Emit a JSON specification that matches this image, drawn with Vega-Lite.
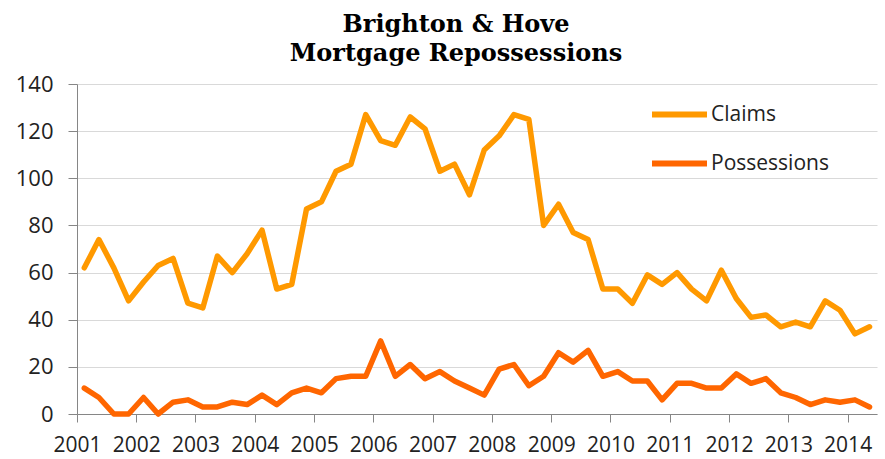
{
  "$schema": "https://vega.github.io/schema/vega-lite/v6.json",
  "width": 800,
  "height": 330,
  "autosize": {"type": "none"},
  "padding": {"left": 77, "top": 84, "right": 8, "bottom": 45},
  "background": "#ffffff",
  "title": {
    "text": ["Brighton & Hove", "Mortgage Repossessions"],
    "font": "DejaVu Serif",
    "fontWeight": "bold",
    "fontSize": 24,
    "lineHeight": 29,
    "color": "#000000",
    "anchor": "middle",
    "dx": -21,
    "offset": 7
  },
  "data": {
    "values": [
      {"date": "2001-02-15", "Claims": 62, "Possessions": 11},
      {"date": "2001-05-16", "Claims": 74, "Possessions": 7},
      {"date": "2001-08-16", "Claims": 62, "Possessions": 0},
      {"date": "2001-11-15", "Claims": 48, "Possessions": 0},
      {"date": "2002-02-15", "Claims": 56, "Possessions": 7},
      {"date": "2002-05-16", "Claims": 63, "Possessions": 0},
      {"date": "2002-08-16", "Claims": 66, "Possessions": 5},
      {"date": "2002-11-15", "Claims": 47, "Possessions": 6},
      {"date": "2003-02-15", "Claims": 45, "Possessions": 3},
      {"date": "2003-05-16", "Claims": 67, "Possessions": 3},
      {"date": "2003-08-16", "Claims": 60, "Possessions": 5},
      {"date": "2003-11-15", "Claims": 68, "Possessions": 4},
      {"date": "2004-02-15", "Claims": 78, "Possessions": 8},
      {"date": "2004-05-16", "Claims": 53, "Possessions": 4},
      {"date": "2004-08-16", "Claims": 55, "Possessions": 9},
      {"date": "2004-11-15", "Claims": 87, "Possessions": 11},
      {"date": "2005-02-15", "Claims": 90, "Possessions": 9},
      {"date": "2005-05-16", "Claims": 103, "Possessions": 15},
      {"date": "2005-08-16", "Claims": 106, "Possessions": 16},
      {"date": "2005-11-15", "Claims": 127, "Possessions": 16},
      {"date": "2006-02-15", "Claims": 116, "Possessions": 31},
      {"date": "2006-05-16", "Claims": 114, "Possessions": 16},
      {"date": "2006-08-16", "Claims": 126, "Possessions": 21},
      {"date": "2006-11-15", "Claims": 121, "Possessions": 15},
      {"date": "2007-02-15", "Claims": 103, "Possessions": 18},
      {"date": "2007-05-16", "Claims": 106, "Possessions": 14},
      {"date": "2007-08-16", "Claims": 93, "Possessions": 11},
      {"date": "2007-11-15", "Claims": 112, "Possessions": 8},
      {"date": "2008-02-15", "Claims": 118, "Possessions": 19},
      {"date": "2008-05-16", "Claims": 127, "Possessions": 21},
      {"date": "2008-08-16", "Claims": 125, "Possessions": 12},
      {"date": "2008-11-15", "Claims": 80, "Possessions": 16},
      {"date": "2009-02-15", "Claims": 89, "Possessions": 26},
      {"date": "2009-05-16", "Claims": 77, "Possessions": 22},
      {"date": "2009-08-16", "Claims": 74, "Possessions": 27},
      {"date": "2009-11-15", "Claims": 53, "Possessions": 16},
      {"date": "2010-02-15", "Claims": 53, "Possessions": 18},
      {"date": "2010-05-16", "Claims": 47, "Possessions": 14},
      {"date": "2010-08-16", "Claims": 59, "Possessions": 14},
      {"date": "2010-11-15", "Claims": 55, "Possessions": 6},
      {"date": "2011-02-15", "Claims": 60, "Possessions": 13},
      {"date": "2011-05-16", "Claims": 53, "Possessions": 13},
      {"date": "2011-08-16", "Claims": 48, "Possessions": 11},
      {"date": "2011-11-15", "Claims": 61, "Possessions": 11},
      {"date": "2012-02-15", "Claims": 49, "Possessions": 17},
      {"date": "2012-05-16", "Claims": 41, "Possessions": 13},
      {"date": "2012-08-16", "Claims": 42, "Possessions": 15},
      {"date": "2012-11-15", "Claims": 37, "Possessions": 9},
      {"date": "2013-02-15", "Claims": 39, "Possessions": 7},
      {"date": "2013-05-16", "Claims": 37, "Possessions": 4},
      {"date": "2013-08-16", "Claims": 48, "Possessions": 6},
      {"date": "2013-11-15", "Claims": 44, "Possessions": 5},
      {"date": "2014-02-15", "Claims": 34, "Possessions": 6},
      {"date": "2014-05-16", "Claims": 37, "Possessions": 3}
    ]
  },
  "transform": [
    {"fold": ["Claims", "Possessions"], "as": ["series", "value"]}
  ],
  "mark": {"type": "line", "strokeWidth": 5.5, "strokeCap": "round", "strokeJoin": "round", "clip": false},
  "encoding": {
    "x": {
      "field": "date",
      "type": "temporal",
      "scale": {"type": "utc", "domain": [{"year": 2001, "month": 1, "date": 1, "utc": true}, {"year": 2014, "month": 7, "date": 1, "utc": true}]},
      "axis": {
        "title": null,
        "format": "%Y",
        "tickCount": {"interval": "year", "step": 1},
        "grid": false,
        "domainColor": "#868686",
        "tickColor": "#868686",
        "tickSize": 8,
        "labelFont": "Open Sans",
        "labelFontSize": 21,
        "labelColor": "#222222",
        "labelPadding": 12,
        "labelDx": 7,
        "labelFlush": false,
        "labelOverlap": false
      }
    },
    "y": {
      "field": "value",
      "type": "quantitative",
      "scale": {"domain": [0, 140]},
      "axis": {
        "title": null,
        "values": [0, 20, 40, 60, 80, 100, 120, 140],
        "gridColor": "#D9D9D9",
        "gridWidth": 1,
        "domainColor": "#868686",
        "tickColor": "#868686",
        "tickSize": 9,
        "labelFont": "Open Sans",
        "labelFontSize": 22,
        "labelColor": "#222222",
        "labelPadding": 15
      }
    },
    "color": {
      "field": "series",
      "type": "nominal",
      "scale": {"domain": ["Claims", "Possessions"], "range": ["#FF9900", "#FF6600"]},
      "legend": {
        "title": null,
        "orient": "none",
        "legendX": 572,
        "legendY": 0,
        "symbolType": "stroke",
        "symbolSize": 3025,
        "symbolStrokeWidth": 6,
        "labelFont": "Open Sans",
        "labelFontSize": 21,
        "labelColor": "#222222",
        "labelOffset": 1,
        "rowPadding": 6
      }
    }
  },
  "config": {"view": {"stroke": null}}
}
